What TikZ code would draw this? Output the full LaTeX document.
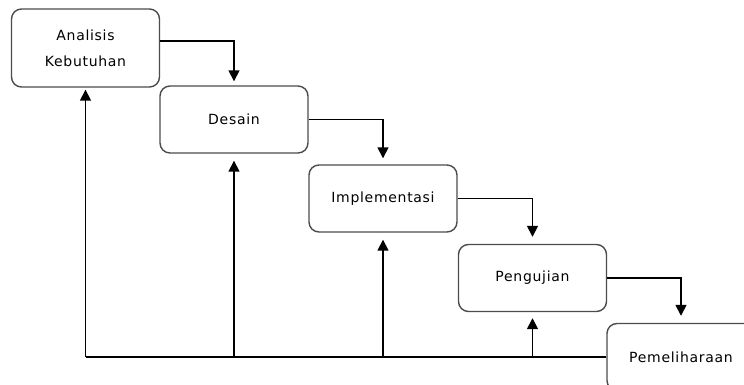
\documentclass[tikz,border=0pt]{standalone}
\usepackage{fontspec}
\setmainfont{DejaVu Sans}[LetterSpace=5]
\usetikzlibrary{arrows.meta}
\begin{document}
\begin{tikzpicture}[x=1pt,y=-1pt,
  phase/.style={draw=black!70,line width=1.4pt,rounded corners=10pt,
    minimum width=148pt,minimum height=67pt,align=center,
    font=\fontsize{14}{26}\selectfont},
  flow/.style={draw=black,line width=1.6pt},
  arr/.style={flow,-{Triangle[width=11pt,length=11pt]}}]
\clip (0,0) rectangle (744,385);
\fill[white] (0,0) rectangle (744,385);

% phases of the waterfall model
\node[phase,minimum height=78pt] (a1) at (85.5,48) {Analisis\\Kebutuhan};
\node[phase] (a2) at (234,119.5) {Desain};
\node[phase] (a3) at (383,198.5) {Implementasi};
\node[phase] (a4) at (532.5,278) {Pengujian};
\node[phase] (a5) at (681,357) {Pemeliharaan};

% forward flow
\draw[arr,shorten >=4pt] ([yshift=7pt]a1.east) -| (a2.north);
\draw[arr,shorten >=6pt] (a2.east) -| (a3.north);
\draw[arr,shorten >=7pt] (a3.east) -| (a4.north);
\draw[arr,shorten >=7pt] (a4.east) -| (a5.north);

% feedback line back to every earlier phase
\coordinate (c1) at (a1.south |- a5.west);
\coordinate (c2) at (a2.south |- a5.west);
\coordinate (c3) at (a3.south |- a5.west);
\coordinate (c4) at (a4.south |- a5.west);
\draw[flow] (a5.west) -- (c1);
\draw[arr,shorten >=2pt] (c1) -- (a1.south);
\draw[arr,shorten >=7pt] (c2) -- (a2.south);
\draw[arr,shorten >=7pt] (c3) -- (a3.south);
\draw[arr,shorten >=6pt] (c4) -- (a4.south);
\end{tikzpicture}
\end{document}
